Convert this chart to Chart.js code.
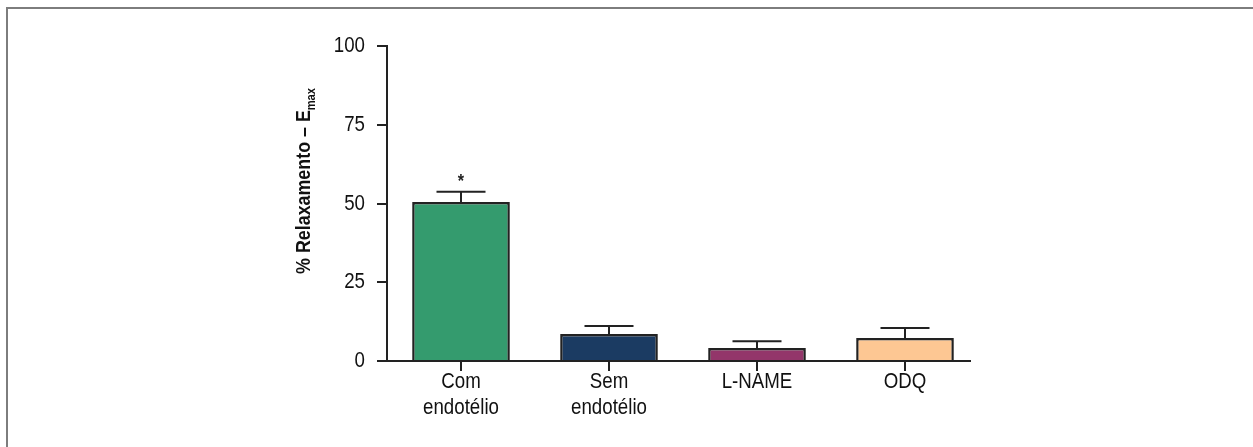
<!DOCTYPE html>
<html>
<head>
<meta charset="utf-8">
<script src="https://cdn.jsdelivr.net/npm/chart.js@4.4.1/dist/chart.umd.min.js"></script>
<style>
  html, body { margin: 0; padding: 0; background: #fff; }
  #wrap { position: relative; width: 1253px; height: 447px; overflow: hidden; }
  #frame { position: absolute; left: 6px; top: 7px; width: 1300px; height: 500px;
           border-top: 2px solid #7d7d7d; border-left: 2px solid #7d7d7d; }
  canvas { position: absolute; left: 0; top: 0; }
</style>
</head>
<body>
<div id="wrap">
  <div id="frame"></div>
  <canvas id="c" width="1253" height="447"></canvas>
</div>
<script>
const categories = [["Com", "endotélio"], ["Sem", "endotélio"], "L-NAME", "ODQ"];
const means = [50.5, 8.6, 4.1, 7.3];
const errors = [3.2, 2.5, 2.2, 3.2];
const significance = ["*", "", "", ""];
const barColors = ["#349b6e", "#1b3b62", "#93366a", "#fdc793"];
const yTicks = [0, 25, 50, 75, 100];
const yTitleMain = "% Relaxamento – E";
const yTitleSub = "max";

const FONT = "'Liberation Sans', Arial, sans-serif";
const SQUEEZE = 0.85;

function condensedText(ctx, text, x, y, align) {
  ctx.save();
  ctx.translate(x, y);
  ctx.scale(SQUEEZE, 1);
  ctx.textAlign = align;
  ctx.fillText(text, 0, 0);
  ctx.restore();
}

const overlay = {
  id: 'overlay',
  afterDraw(chart) {
    const ctx = chart.ctx;
    const meta = chart.getDatasetMeta(0);
    const y = chart.scales.y;
    const x = chart.scales.x;
    const ca = chart.chartArea;
    const y0 = y.getPixelForValue(0);
    ctx.save();
    // x axis line
    ctx.strokeStyle = '#222';
    ctx.lineWidth = 2;
    ctx.beginPath();
    ctx.moveTo(ca.left, y0);
    ctx.lineTo(ca.right - 8, y0);
    ctx.stroke();
    // error bars
    meta.data.forEach((bar, i) => {
      const cx = bar.x;
      const top = y.getPixelForValue(means[i]);
      const et = y.getPixelForValue(means[i] + errors[i]);
      ctx.beginPath();
      ctx.moveTo(cx, top);
      ctx.lineTo(cx, et);
      ctx.moveTo(cx - 24.5, et);
      ctx.lineTo(cx + 24.5, et);
      ctx.stroke();
      if (significance[i]) {
        ctx.fillStyle = '#222';
        ctx.font = "bold 19px " + FONT;
        ctx.textBaseline = 'middle';
        condensedText(ctx, significance[i], cx, et - 10, 'center');
      }
    });
    // tick labels
    ctx.fillStyle = '#111';
    ctx.font = "22px " + FONT;
    ctx.textBaseline = 'middle';
    yTicks.forEach(v => condensedText(ctx, String(v), ca.left - 22, y.getPixelForValue(v), 'right'));
    categories.forEach((lab, i) => {
      const lines = Array.isArray(lab) ? lab : [lab];
      const cx = x.getPixelForValue(i);
      lines.forEach((ln, j) => condensedText(ctx, ln, cx, y0 + 21 + j * 26, 'center'));
    });
    // y axis title with subscript
    ctx.translate(304, 181);
    ctx.rotate(-Math.PI / 2);
    ctx.scale(SQUEEZE, 1);
    const mainFont = "bold 21px " + FONT;
    const subFont = "bold 13px " + FONT;
    ctx.font = mainFont;
    const w1 = ctx.measureText(yTitleMain).width;
    ctx.font = subFont;
    const w2 = ctx.measureText(yTitleSub).width;
    const start = -(w1 + w2) / 2;
    ctx.textAlign = 'left';
    ctx.textBaseline = 'middle';
    ctx.font = mainFont;
    ctx.fillText(yTitleMain, start, 0);
    ctx.font = subFont;
    ctx.fillText(yTitleSub, start + w1, 7);
    ctx.restore();
  }
};

new Chart(document.getElementById('c'), {
  type: 'bar',
  data: {
    labels: categories,
    datasets: [{
      data: means,
      backgroundColor: barColors,
      borderColor: '#222',
      borderWidth: 2.5,
      barPercentage: 0.66,
      categoryPercentage: 1.0
    }]
  },
  options: {
    responsive: false,
    animation: false,
    devicePixelRatio: 1,
    layout: { padding: { left: 0, right: 274, top: 46, bottom: 0 } },
    plugins: { legend: { display: false }, tooltip: { enabled: false } },
    scales: {
      x: {
        offset: true,
        grid: { display: true, drawOnChartArea: false, drawTicks: true, tickLength: 10, color: '#222', lineWidth: 2, offset: false },
        border: { display: false },
        ticks: { display: false },
        afterFit(s) { s.height = 86; }
      },
      y: {
        min: 0, max: 100,
        afterBuildTicks(s) { s.ticks = yTicks.map(v => ({ value: v })); },
        grid: { display: true, drawOnChartArea: false, drawTicks: true, tickLength: 10, color: '#222', lineWidth: 2 },
        border: { display: true, color: '#222', width: 2 },
        ticks: { display: false },
        afterFit(s) { s.width = 387; }
      }
    }
  },
  plugins: [overlay]
});
</script>
</body>
</html>
